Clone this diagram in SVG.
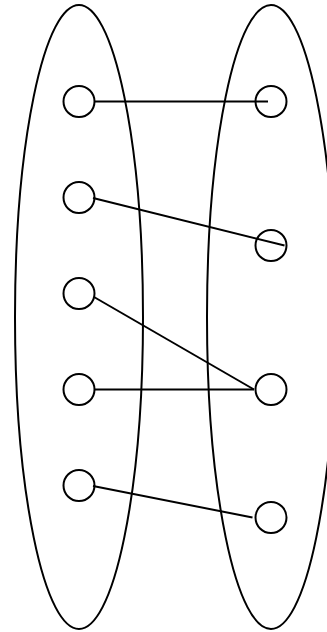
<svg xmlns="http://www.w3.org/2000/svg" width="327" height="632" viewBox="0 0 327 632">
<style>
.s{fill:none;stroke:#000;stroke-width:2}
</style>
<rect width="327" height="632" fill="#fff"/>
<g id="setA"><ellipse class="s" cx="79" cy="317" rx="64" ry="312"/></g>
<g id="setB"><ellipse class="s" cx="271" cy="317" rx="64" ry="312"/></g>
<g id="a1"><circle class="s" cx="79" cy="101.5" r="15.5"/></g>
<g id="a2"><circle class="s" cx="79" cy="197.5" r="15.5"/></g>
<g id="a3"><circle class="s" cx="79" cy="293.5" r="15.5"/></g>
<g id="a4"><circle class="s" cx="79" cy="389.5" r="15.5"/></g>
<g id="a5"><circle class="s" cx="79" cy="485.5" r="15.5"/></g>
<g id="b1"><circle class="s" cx="271" cy="101.5" r="15.5"/></g>
<g id="b2"><circle class="s" cx="271" cy="245.5" r="15.5"/></g>
<g id="b3"><circle class="s" cx="271" cy="389.5" r="15.5"/></g>
<g id="b4"><circle class="s" cx="271" cy="517.5" r="15.5"/></g>
<g id="connectors" class="s">
<line x1="95" y1="101.5" x2="268" y2="101.5"/>
<line x1="93" y1="198" x2="284.5" y2="245.5"/>
<line x1="94" y1="297" x2="254" y2="389.5"/>
<line x1="95" y1="389.5" x2="254" y2="389.5"/>
<line x1="93" y1="486" x2="252.5" y2="517.5"/>
</g>
</svg>
